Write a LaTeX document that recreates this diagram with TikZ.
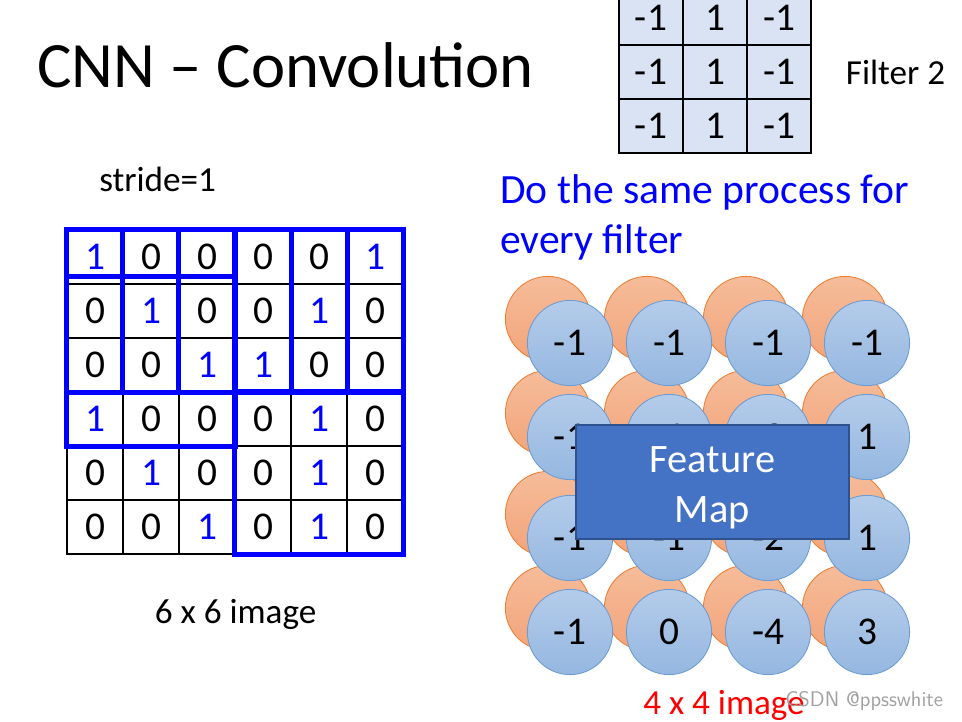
\documentclass[tikz,border=0pt]{standalone}
\usepackage{fontspec}
\setmainfont{Carlito}
\usetikzlibrary{positioning}
\definecolor{winblue}{HTML}{0000FF}
\definecolor{filterfill}{HTML}{DAE3F3}
\definecolor{orangetop}{HTML}{F6BC9A}
\definecolor{orangebot}{HTML}{F2A47A}
\definecolor{orangeline}{HTML}{ED7D31}
\definecolor{bluetop}{HTML}{B4CCEA}
\definecolor{bluebot}{HTML}{95B7E0}
\definecolor{blueline}{HTML}{6A9BD3}
\definecolor{mapfill}{HTML}{4472C4}
\definecolor{mapline}{HTML}{2F528F}
\definecolor{markgray}{HTML}{A0A0A0}

\begin{document}
\begin{tikzpicture}[x=0.025cm, y=-0.025cm,
    numfont/.style={font=\fontsize{28}{30}\selectfont},
    cell/.style={rectangle, draw, line width=0.8pt, minimum width=1.4cm, minimum height=1.35cm, inner sep=0pt, numfont},
    cellone/.style={cell, text=winblue},
    fcell/.style={rectangle, draw, line width=0.9pt, fill=filterfill, minimum width=1.6cm, minimum height=1.35cm, inner sep=0pt, numfont},
    win/.style={draw=winblue, line width=3.5pt},
    fmapone/.style={circle, draw=orangeline, line width=0.6pt, top color=orangetop, bottom color=orangebot, minimum size=2.13cm, inner sep=0pt},
    fmaptwo/.style={circle, draw=blueline, line width=0.6pt, top color=bluetop, bottom color=bluebot, minimum size=2.13cm, inner sep=0pt, numfont},
    caption/.style={inner sep=0pt, font=\fontsize{25}{30}\selectfont}
]
    \useasboundingbox (0,0) rectangle (962,722);
    \clip (0,0) rectangle (962,722);

    % Title
    \node[anchor=base west, inner sep=0pt, font=\fontsize{46}{50}\selectfont] (title) at (37,88) {CNN -- Convolution};

    % === FILTER 2 ===
    \node[fcell] (f11) at (651,18) {-1};
    \node[fcell] (f12) at (715,18) {1};
    \node[fcell] (f13) at (779,18) {-1};
    \node[fcell] (f21) at (651,72) {-1};
    \node[fcell] (f22) at (715,72) {1};
    \node[fcell] (f23) at (779,72) {-1};
    \node[fcell] (f31) at (651,126) {-1};
    \node[fcell] (f32) at (715,126) {1};
    \node[fcell] (f33) at (779,126) {-1};
    \node[caption, right=0.85cm of f23] (flabel) {Filter 2};

    % === 6 x 6 IMAGE ===
    \node[caption, anchor=base west] (stride) at (99,192) {stride=1};

    % Row 1
    \node[cellone] (c11) at (95,257) {1};
    \node[cell] (c12) at (151,257) {0};
    \node[cell] (c13) at (207,257) {0};
    \node[cell] (c14) at (263,257) {0};
    \node[cell] (c15) at (319,257) {0};
    \node[cellone] (c16) at (375,257) {1};
    % Row 2
    \node[cell] (c21) at (95,311) {0};
    \node[cellone] (c22) at (151,311) {1};
    \node[cell] (c23) at (207,311) {0};
    \node[cell] (c24) at (263,311) {0};
    \node[cellone] (c25) at (319,311) {1};
    \node[cell] (c26) at (375,311) {0};
    % Row 3
    \node[cell] (c31) at (95,365) {0};
    \node[cell] (c32) at (151,365) {0};
    \node[cellone] (c33) at (207,365) {1};
    \node[cellone] (c34) at (263,365) {1};
    \node[cell] (c35) at (319,365) {0};
    \node[cell] (c36) at (375,365) {0};
    % Row 4
    \node[cellone] (c41) at (95,419) {1};
    \node[cell] (c42) at (151,419) {0};
    \node[cell] (c43) at (207,419) {0};
    \node[cell] (c44) at (263,419) {0};
    \node[cellone] (c45) at (319,419) {1};
    \node[cell] (c46) at (375,419) {0};
    % Row 5
    \node[cell] (c51) at (95,473) {0};
    \node[cellone] (c52) at (151,473) {1};
    \node[cell] (c53) at (207,473) {0};
    \node[cell] (c54) at (263,473) {0};
    \node[cellone] (c55) at (319,473) {1};
    \node[cell] (c56) at (375,473) {0};
    % Row 6
    \node[cell] (c61) at (95,527) {0};
    \node[cell] (c62) at (151,527) {0};
    \node[cellone] (c63) at (207,527) {1};
    \node[cell] (c64) at (263,527) {0};
    \node[cellone] (c65) at (319,527) {1};
    \node[cell] (c66) at (375,527) {0};

    % Filter windows (stride 1)
    \draw[win] (c11.north west) rectangle (c33.south east);
    \draw[win] (c12.north west) rectangle (c34.south east);
    \draw[win] (c13.north west) rectangle (c35.south east);
    \draw[win] (c14.north west) rectangle (c36.south east);
    \draw[win] ([yshift=5pt]c21.north west) rectangle (c43.south east);
    \draw[win] (c44.north west) rectangle (c66.south east);

    \node[caption, below=1.1cm of c63.south east] (imglabel) {6 x 6 image};

    % === FEATURE MAPS ===
    \node[anchor=base west, inner sep=0pt, align=left, text=winblue, font=\fontsize{29.6}{35.6}\selectfont] (note) at (500,254) {Do the same process for\\every filter};

    % Filter 1 map (behind)
    \node[fmapone] (o11) at (548,319) {};
    \node[fmapone] (o12) at (647,319) {};
    \node[fmapone] (o13) at (746,319) {};
    \node[fmapone] (o14) at (845,319) {};
    \node[fmapone] (o21) at (548,413) {};
    \node[fmapone] (o22) at (647,413) {};
    \node[fmapone] (o23) at (746,413) {};
    \node[fmapone] (o24) at (845,413) {};
    \node[fmapone] (o31) at (548,514) {};
    \node[fmapone] (o32) at (647,514) {};
    \node[fmapone] (o33) at (746,514) {};
    \node[fmapone] (o34) at (845,514) {};
    \node[fmapone] (o41) at (548,608) {};
    \node[fmapone] (o42) at (647,608) {};
    \node[fmapone] (o43) at (746,608) {};
    \node[fmapone] (o44) at (845,608) {};

    % Filter 2 map (front)
    \node[fmaptwo] (b11) at (570,343) {-1};
    \node[fmaptwo] (b12) at (669,343) {-1};
    \node[fmaptwo] (b13) at (768,343) {-1};
    \node[fmaptwo] (b14) at (867,343) {-1};
    \node[fmaptwo] (b21) at (570,437) {-1};
    \node[fmaptwo] (b22) at (669,437) {-1};
    \node[fmaptwo] (b23) at (768,437) {-2};
    \node[fmaptwo] (b24) at (867,437) {1};
    \node[fmaptwo] (b31) at (570,538) {-1};
    \node[fmaptwo] (b32) at (669,538) {-1};
    \node[fmaptwo] (b33) at (768,538) {-2};
    \node[fmaptwo] (b34) at (867,538) {1};
    \node[fmaptwo] (b41) at (570,632) {-1};
    \node[fmaptwo] (b42) at (669,632) {0};
    \node[fmaptwo] (b43) at (768,632) {-4};
    \node[fmaptwo] (b44) at (867,632) {3};

    % Label box
    \node[rectangle, draw=mapline, line width=0.8pt, fill=mapfill, minimum width=6.825cm, minimum height=2.85cm,
          text=white, align=center, font=\fontsize{28.7}{35.6}\selectfont] (fmap) at (712.5,482) {\rule{0pt}{26pt}Feature\\Map};

    \node[caption, anchor=base, text=red] (maplabel) at (724,714) {4 x 4 image};

    % Watermark
    \node[anchor=base west, inner sep=0pt, text=markgray, font=\sffamily\fontsize{15}{17}\selectfont] (mark) at (785,706) {CSDN @ppsswhite};

\end{tikzpicture}
\end{document}
